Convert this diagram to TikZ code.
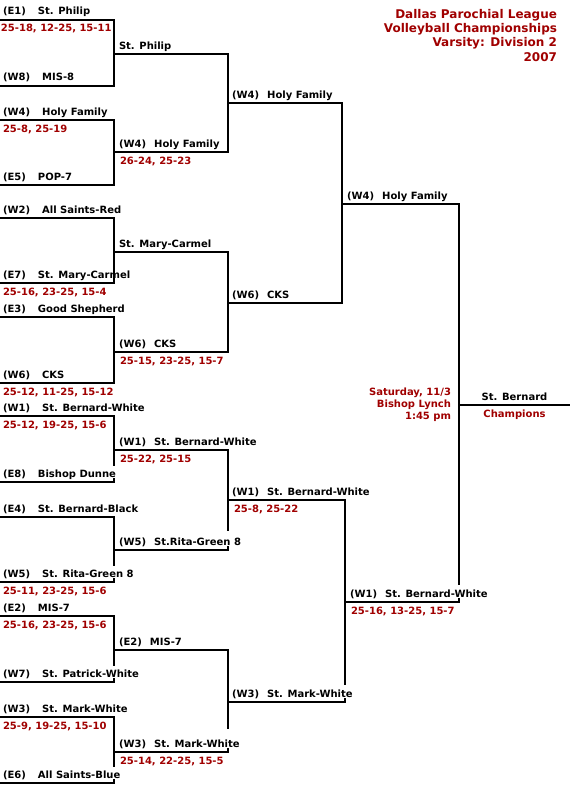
\documentclass[tikz,border=0pt]{standalone}
\usepackage{fontspec}
\setmainfont{DejaVu Sans}
\usetikzlibrary{calc}
\definecolor{scorered}{RGB}{160,0,0}

\begin{document}
\begin{tikzpicture}[
  x=1pt, y=-1pt, line width=2pt, line join=miter,
  every node/.style={font=\bfseries, inner sep=0pt},
  team/.style={anchor=base west, xshift=#1, yshift=5pt},
  team/.default=2pt,
  score/.style={anchor=base west, xshift=#1, yshift=-12pt, text=scorered},
  score/.default=2pt
]
  \useasboundingbox (0,0) rectangle (570,800);

  % round 1
  \coordinate (s1) at (0,20);   \coordinate (s2) at (0,86);
  \coordinate (s3) at (0,120);  \coordinate (s4) at (0,185);
  \coordinate (s5) at (0,218);  \coordinate (s6) at (0,283);
  \coordinate (s7) at (0,317);  \coordinate (s8) at (0,383);
  \coordinate (s9) at (0,416);  \coordinate (s10) at (0,482);
  \coordinate (s11) at (0,517); \coordinate (s12) at (0,582);
  \coordinate (s13) at (0,616); \coordinate (s14) at (0,682);
  \coordinate (s15) at (0,717); \coordinate (s16) at (0,783);
  % round 2
  \coordinate (t1) at (114,54);  \coordinate (t2) at (114,152);
  \coordinate (t3) at (114,252); \coordinate (t4) at (114,352);
  \coordinate (t5) at (114,450); \coordinate (t6) at (114,550);
  \coordinate (t7) at (114,650); \coordinate (t8) at (114,752);
  % round 3
  \coordinate (q1) at (228,103); \coordinate (q2) at (228,303);
  \coordinate (q3) at (228,500); \coordinate (q4) at (228,702);
  % semifinal winners, final
  \coordinate (f1) at (342,204); \coordinate (f2) at (345,602);
  \coordinate (c) at (459,405);  \coordinate (champ) at (570,405);

  % top half
  \draw (s1) -| (t1) |- (s2);
  \draw (s3) -| (t2) |- (s4);
  \draw (s5) -| (t3) |- (s6);
  \draw (s7) -| (t4) |- (s8);
  \draw (t1) -| (q1) |- (t2);
  \draw (t3) -| (q2) |- (t4);
  \draw (q1) -| (f1) |- (q2);
  % bottom half: verticals stop short of the lower line
  \draw (s9) -| (t5) -- ++(0,16);   \draw (s10) -- (s10 -| t5) -- ++(0,-4);
  \draw (s11) -| (t6) -- ++(0,16);  \draw (s12) -- (s12 -| t6) -- ++(0,-4);
  \draw (s13) -| (t7) -- ++(0,16);  \draw (s14) -- (s14 -| t7) -- ++(0,-4);
  \draw (s15) -| (t8) -- ++(0,15);  \draw (s16) -- (s16 -| t8) -- ++(0,-4);
  \draw (t5) -| (q3) -- ++(0,31);   \draw (t6) -- (t6 -| q3) -- ++(0,-4);
  \draw (t7) -| (q4) -- ++(0,27);   \draw (t8) -- (t8 -| q4) -- ++(0,-4);
  \draw (q3) -| (f2) -- ++(0,83);   \draw (q4) -- (q4 -| f2) -- ++(0,-4);
  % final
  \draw (f1) -| (c) -- ++(0,180);   \draw (f2) -- (f2 -| c) -- ++(0,-4);
  \draw (c) -- (champ);

  % round 1 teams
  \node[team] (n1) at (s1) {(E1)\hspace{12pt}St. Philip};
  \node[team] (n2) at (s2) {(W8)\hspace{12pt}MIS-8};
  \node[team] (n3) at (s3) {(W4)\hspace{12pt}Holy Family};
  \node[team] (n4) at (s4) {(E5)\hspace{12pt}POP-7};
  \node[team] (n5) at (s5) {(W2)\hspace{12pt}All Saints-Red};
  \node[team] (n6) at (s6) {(E7)\hspace{12pt}St. Mary-Carmel};
  \node[team] (n7) at (s7) {(E3)\hspace{12pt}Good Shepherd};
  \node[team] (n8) at (s8) {(W6)\hspace{12pt}CKS};
  \node[team] (n9) at (s9) {(W1)\hspace{12pt}St. Bernard-White};
  \node[team] (n10) at (s10) {(E8)\hspace{12pt}Bishop Dunne};
  \node[team] (n11) at (s11) {(E4)\hspace{12pt}St. Bernard-Black};
  \node[team] (n12) at (s12) {(W5)\hspace{12pt}St. Rita-Green 8};
  \node[team] (n13) at (s13) {(E2)\hspace{12pt}MIS-7};
  \node[team] (n14) at (s14) {(W7)\hspace{12pt}St. Patrick-White};
  \node[team] (n15) at (s15) {(W3)\hspace{12pt}St. Mark-White};
  \node[team] (n16) at (s16) {(E6)\hspace{12pt}All Saints-Blue};
  \node[score=0pt] (sc1) at (s1) {25-18, 12-25, 15-11};
  \node[score] (sc2) at (s3) {25-8, 25-19};
  \node[score] (sc3) at (s6) {25-16, 23-25, 15-4};
  \node[score] (sc4) at (s8) {25-12, 11-25, 15-12};
  \node[score] (sc5) at (s9) {25-12, 19-25, 15-6};
  \node[score] (sc6) at (s12) {25-11, 23-25, 15-6};
  \node[score] (sc7) at (s13) {25-16, 23-25, 15-6};
  \node[score] (sc8) at (s15) {25-9, 19-25, 15-10};

  % round 2
  \node[team=4pt] (m1) at (t1) {St. Philip};
  \node[team=4pt] (m2) at (t2) {(W4)\hspace{8pt}Holy Family};
  \node[team=4pt] (m3) at (t3) {St. Mary-Carmel};
  \node[team=4pt] (m4) at (t4) {(W6)\hspace{8pt}CKS};
  \node[team=4pt] (m5) at (t5) {(W1)\hspace{8pt}St. Bernard-White};
  \node[team=4pt] (m6) at (t6) {(W5)\hspace{8pt}St.Rita-Green 8};
  \node[team=4pt] (m7) at (t7) {(E2)\hspace{8pt}MIS-7};
  \node[team=4pt] (m8) at (t8) {(W3)\hspace{8pt}St. Mark-White};
  \node[score=5pt] (sm2) at (t2) {26-24, 25-23};
  \node[score=5pt] (sm4) at (t4) {25-15, 23-25, 15-7};
  \node[score=5pt] (sm5) at (t5) {25-22, 25-15};
  \node[score=5pt] (sm8) at (t8) {25-14, 22-25, 15-5};

  % round 3 and semifinals
  \node[team=3pt] (k1) at (q1) {(W4)\hspace{8pt}Holy Family};
  \node[team=3pt] (k2) at (q2) {(W6)\hspace{8pt}CKS};
  \node[team=3pt] (k3) at (q3) {(W1)\hspace{8pt}St. Bernard-White};
  \node[team=3pt] (k4) at (q4) {(W3)\hspace{8pt}St. Mark-White};
  \node[score=5pt] (sk3) at (q3) {25-8, 25-22};
  \node[team=4pt] (g1) at (f1) {(W4)\hspace{8pt}Holy Family};
  \node[team=4pt] (g2) at (f2) {(W1)\hspace{8pt}St. Bernard-White};
  \node[score=5pt] (sg2) at (f2) {25-16, 13-25, 15-7};

  % champion
  \node[anchor=base, yshift=5pt] (winner) at ($(c)!0.5!(champ)$) {St. Bernard};
  \node[anchor=base, yshift=-12pt, text=scorered] (champs) at ($(c)!0.5!(champ)$) {Champions};
  \node[anchor=north east, align=right, text=scorered,
        font=\bfseries\fontsize{10}{12}\selectfont] (info) at (452,387)
    {Saturday, 11/3\\Bishop Lynch\\1:45 pm};

  % title
  \node[anchor=north east, align=right, text=scorered,
        font=\bfseries\fontsize{12}{14.3}\selectfont] (title) at (558,8)
    {Dallas Parochial League\\Volleyball Championships\\Varsity: Division 2\\2007};
\end{tikzpicture}
\end{document}
